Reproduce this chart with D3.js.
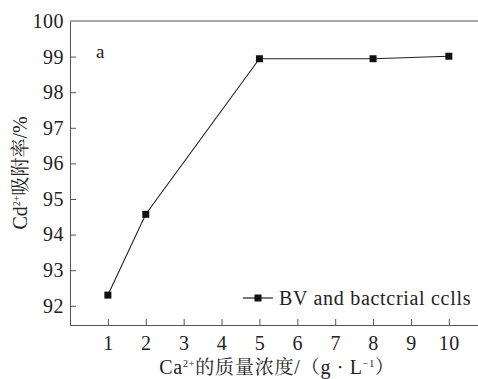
<!DOCTYPE html>
<meta charset="utf-8">
<head>
<style>
  body { margin: 0; background: #fff; }
  svg { display: block; }
</style>
</head>
<body>
<svg width="478" height="379"></svg>
<script src="https://d3js.org/d3.v7.min.js"></script>
<script>
// data
var caConc = [1, 2, 5, 8, 10];
var cdAdsorption = [92.3, 94.57, 98.94, 98.94, 99.01];
var xTicks = [1, 2, 3, 4, 5, 6, 7, 8, 9, 10];
var yTicks = [92, 93, 94, 95, 96, 97, 98, 99, 100];
var seriesName = "BV and bactcrial cclls";

var SERIF = "'Liberation Serif', serif";
var CJK = "'Noto Serif CJK SC', 'Noto Sans CJK SC', serif";

var svg = d3.select("svg"),
    mLeft = 70, mRight = 478, mTop = 21, mBottom = 325;

var x = d3.scaleLinear().domain([0, 10.77]).range([mLeft, mRight]);
var y = d3.scaleLinear().domain([91.46, 100]).range([mBottom, mTop]);

// frame: top line only (no right border in the original)
svg.append("line")
  .attr("x1", mLeft).attr("x2", mRight)
  .attr("y1", mTop).attr("y2", mTop)
  .attr("stroke", "#555").attr("stroke-width", 1);

var xAxis = svg.append("g")
  .attr("transform", "translate(0," + mBottom + ")")
  .call(d3.axisBottom(x).tickValues(xTicks).tickSizeInner(-6).tickSizeOuter(0).tickPadding(11));
xAxis.select(".domain").attr("stroke", "#555");
xAxis.selectAll(".tick line").attr("stroke", "#555");

var yAxis = svg.append("g")
  .attr("transform", "translate(" + mLeft + ",0)")
  .call(d3.axisLeft(y).tickValues(yTicks).tickSizeInner(-6).tickSizeOuter(0).tickPadding(6));
yAxis.select(".domain").attr("stroke", "#555");
yAxis.selectAll(".tick line").attr("stroke", "#555").filter(function(d) { return d === 100; }).remove();

svg.selectAll(".tick text")
  .style("font-family", SERIF, "important")
  .style("font-size", "20px")
  .style("letter-spacing", "0.5px")
  .attr("fill", "#222");

// series
var pts = caConc.map(function(c, i) { return [c, cdAdsorption[i]]; });
svg.append("path")
  .datum(pts)
  .attr("fill", "none")
  .attr("stroke", "#222")
  .attr("stroke-width", 1.1)
  .attr("d", d3.line().x(function(d) { return x(d[0]); }).y(function(d) { return y(d[1]); }));

svg.selectAll(".pt")
  .data(pts)
  .enter().append("rect")
  .attr("class", "pt")
  .attr("x", function(d) { return x(d[0]) - 3.5; })
  .attr("y", function(d) { return y(d[1]) - 3.5; })
  .attr("width", 7).attr("height", 7)
  .attr("fill", "#111");

function serifText(sel, size) {
  return sel.style("font-family", SERIF, "important").style("font-size", size + "px").attr("fill", "#222");
}

// panel letter
serifText(svg.append("text").attr("x", 96).attr("y", 58), 19).text("a");

// legend
var lg = svg.append("g").attr("transform", "translate(243,298)");
lg.append("line").attr("x1", 0).attr("x2", 30).attr("stroke", "#222").attr("stroke-width", 1.2);
lg.append("rect").attr("x", 11.5).attr("y", -3.5).attr("width", 7).attr("height", 7).attr("fill", "#111");
serifText(lg.append("text").attr("x", 36).attr("y", 7), 20)
  .style("letter-spacing", "0.7px")
  .text(seriesName);

// axis titles
function sup(t, s) { t.append("tspan").style("font-size", "10px").attr("dy", -7).text(s); }
function cjk(t, s, back) {
  t.append("tspan").attr("dy", back ? 7 : 0).style("font-family", CJK, "important").style("font-size", "19px").text(s);
}

var yt = serifText(svg.append("text")
  .attr("transform", "translate(27," + ((mTop + mBottom) / 2) + ") rotate(-90)")
  .attr("text-anchor", "middle"), 20);
yt.append("tspan").text("Cd");
sup(yt, "2+");
cjk(yt, "吸附率", true);
yt.append("tspan").text("/%");

var xt = serifText(svg.append("text")
  .attr("x", (mLeft + mRight) / 2 + 3).attr("y", 374)
  .attr("text-anchor", "middle"), 20)
  .style("letter-spacing", "0.8px");
xt.append("tspan").text("Ca");
sup(xt, "2+");
cjk(xt, "的质量浓度", true);
xt.append("tspan").text("/");
cjk(xt, "（");
xt.append("tspan").text("g");
cjk(xt, " · ");
xt.append("tspan").text("L");
sup(xt, "−1");
cjk(xt, "）", true);
</script>
</body>
